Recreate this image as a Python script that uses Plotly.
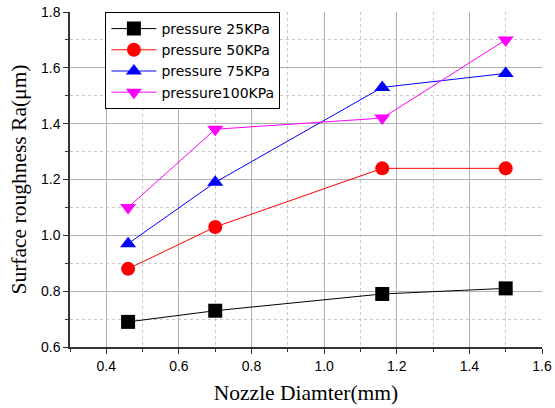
import plotly.graph_objects as go

nozzle = [0.46, 0.70, 1.16, 1.50]
p25 = [0.69, 0.73, 0.79, 0.81]
p50 = [0.88, 1.03, 1.24, 1.24]
p75 = [0.97, 1.19, 1.53, 1.58]
p100 = [1.10, 1.38, 1.42, 1.70]
names = ["pressure 25KPa", "pressure 50KPa", "pressure 75KPa", "pressure100KPa"]

series = [p25, p50, p75, p100]
colors = ["black", "red", "blue", "magenta"]
symbols = ["square", "circle", "triangle-up", "triangle-down"]

fig = go.Figure()
for name, ys, c, s in zip(names, series, colors, symbols):
    fig.add_trace(go.Scatter(x=nozzle, y=ys, name=name, mode="lines+markers",
                             line=dict(color=c, width=1),
                             marker=dict(symbol=s, size=14, color=c, line=dict(width=0))))

axis_common = dict(showline=True, linecolor="#333", linewidth=1.5, ticks="outside",
                   ticklen=5, tickcolor="#333", showgrid=True, gridcolor="#b0b0b0",
                   gridwidth=1, zeroline=False, mirror=False, automargin=False,
                   tickfont=dict(family="Liberation Sans, Arial", size=14, color="black"))

fig.update_xaxes(range=[0.3, 1.6], dtick=0.2, tick0=0.4, tickformat=".1f",
                 minor=dict(dtick=0.1, tick0=0.3, ticks="outside", ticklen=3, tickcolor="#333",
                            showgrid=True, gridcolor="#c8c8c8", griddash="dot"),
                 title=dict(text="Nozzle Diamter(mm)", font=dict(family="Liberation Serif, Times New Roman", size=21.5, color="black"), standoff=12),
                 **axis_common)
fig.update_yaxes(range=[0.6, 1.8], dtick=0.2, tick0=0.6, tickformat=".1f",
                 minor=dict(dtick=0.1, tick0=0.6, ticks="outside", ticklen=3, tickcolor="#333",
                            showgrid=True, gridcolor="#c8c8c8", griddash="dot"),
                 title=dict(text="Surface roughness Ra(μm)", font=dict(family="Liberation Serif, Times New Roman", size=21.5, color="black"), standoff=8),
                 **axis_common)

fig.update_layout(width=555, height=408, margin=dict(l=70, r=13, t=12, b=61),
                  plot_bgcolor="white", paper_bgcolor="white",
                  legend=dict(x=0.075, y=1.0, xanchor="left", yanchor="top",
                              bordercolor="black", borderwidth=1, bgcolor="white",
                              font=dict(family="DejaVu Sans", size=14, color="black"),
                              tracegroupgap=0, itemwidth=45),
                  showlegend=True)

fig.write_html("out.html", config={"displayModeBar": False},
               post_script="document.body.style.margin='0';")
